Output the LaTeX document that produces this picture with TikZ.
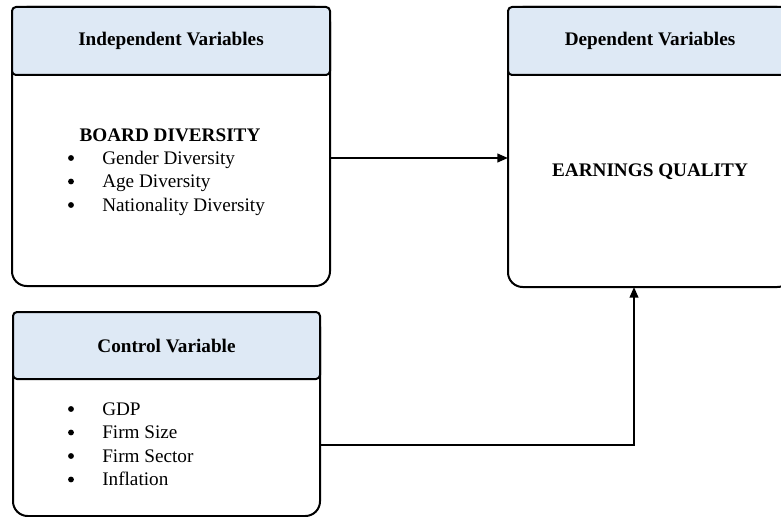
\documentclass[tikz,border=0pt]{standalone}
\usepackage{fontspec}
\setmainfont{Liberation Serif}
\usetikzlibrary{arrows.meta,positioning}
\definecolor{headblue}{HTML}{DEE9F5}
\tikzset{
 cf body/.style={draw=black,line width=1.5pt,rounded corners=11pt,fill=white,
                 inner sep=0pt,outer sep=0pt},
 cf head/.style={draw=black,line width=1.5pt,rounded corners=3pt,fill=headblue,
                 inner sep=0pt,outer sep=0pt,
                 font=\fontsize{14.4}{17.6}\selectfont\bfseries},
 cf title/.style={font=\fontsize{14.4}{17.6}\selectfont\bfseries,inner sep=0pt},
 cf item/.style={font=\fontsize{14.4}{17.6}\selectfont,anchor=base west,inner sep=0pt},
 cf bullet/.style={circle,fill=black,minimum size=4.4pt,inner sep=0pt},
 cf link/.style={line width=1.5pt,-{Triangle[length=8pt,width=6.5pt]}}
}
\begin{document}
\begin{tikzpicture}[x=.75pt,y=-.75pt]
 \useasboundingbox (0,0) rectangle (781,517);

 \node[cf body,minimum width=238.5pt,minimum height=209.25pt] (indep) at (171,146.5) {};
 \node[cf head,minimum width=238.5pt,minimum height=51pt,below=0pt of indep.north]
   (indephead) {Independent Variables};
 \node[cf body,minimum width=213pt,minimum height=210pt] (dep) at (650,147) {};
 \node[cf head,minimum width=213pt,minimum height=51pt,below=0pt of dep.north]
   (dephead) {Dependent Variables};
 \node[cf body,minimum width=230.25pt,minimum height=153pt] (ctrl) at (166.5,414) {};
 \node[cf head,minimum width=230.25pt,minimum height=50.25pt,below=0pt of ctrl.north]
   (ctrlhead) {Control Variable};

 \node[cf title] (board) at (170,135) {BOARD DIVERSITY};
 \foreach \t [count=\i] in {Gender Diversity,Age Diversity,Nationality Diversity} {
   \node[cf bullet] (ivb\i) at (71,{158+23.5*(\i-1)}) {};
   \node[cf item] (iv\i) at (102,{164+23.5*(\i-1)}) {\t};
 }
 \node[cf title] (earn) at (650,172) {EARNINGS QUALITY};
 \foreach \t [count=\i] in {GDP,Firm Size,Firm Sector,Inflation} {
   \node[cf bullet] (cvb\i) at (71,{409+23.5*(\i-1)}) {};
   \node[cf item] (cv\i) at (102,{415+23.5*(\i-1)}) {\t};
 }

 \draw[cf link] (indep.east |- 0,158) -- (dep.west |- 0,158);
 \draw[cf link] (ctrl.east |- 0,445) -| (dep.south -| 634,0);
\end{tikzpicture}
\end{document}
